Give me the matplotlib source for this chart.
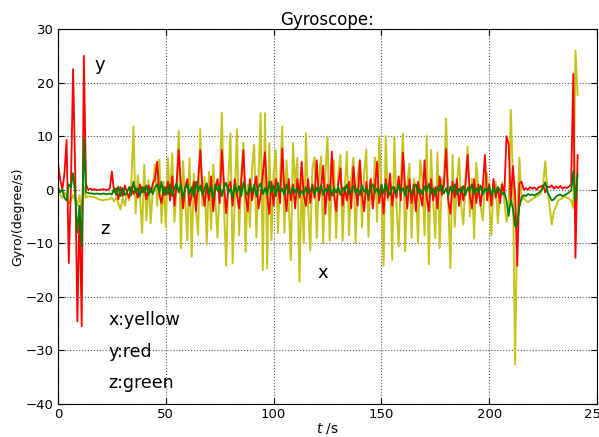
import numpy as np
import matplotlib
matplotlib.use('Agg')
import matplotlib.pyplot as plt

## gyroscope readings, one sample per second
gx = [-0.5, -1.0, -1.5, -0.5, -1.0, -2.5, -2.0, -1.0, -2.0, -3.0,
      -1.0, -4.0, 0.5, -1.5, -1.2, -1.3, -1.4, -1.4, -1.6, -1.8,
      -1.9, -2.0, -1.8, -1.9, -1.7, -1.5, -2.2, -1.4, -2.6, -3.7,
      -1.5, -3.0, -0.5, -2.0, 1.0, 11.8, -4.4, 2.7, -1.0, -8.1,
      4.6, -5.7, 1.8, -6.3, 0.5, 4.7, -3.0, 5.6, -6.2, 1.5,
      -7.0, 5.9, -2.0, 6.8, -6.0, 0.5, 11.0, -10.9, 5.3, -2.0,
      -9.4, 5.9, -12.5, 3.0, -4.0, -8.4, 11.3, -3.0, 2.4, -10.2,
      3.3, -7.4, 4.7, -2.0, -8.9, 1.0, 14.4, -3.0, -14.2, 2.0,
      10.5, -13.7, -2.0, 11.3, -8.5, 3.0, 8.8, -11.6, 1.0, -7.0,
      4.0, 8.4, -8.9, 2.0, 14.3, -15.0, 14.3, -14.7, 8.7, -9.4,
      3.0, 7.4, -8.1, 2.0, 11.8, -8.0, 5.5, -2.0, -13.1, 8.7,
      0.5, 6.0, -17.2, 2.0, -10.0, 10.5, -3.0, -11.3, 4.0, 6.0,
      -9.0, 2.0, 6.2, -10.0, 3.0, 9.9, -9.5, 2.0, 5.5, -9.0,
      3.0, 6.5, -9.5, 0.5, 7.1, -8.5, 2.0, 6.0, -10.0, 3.0,
      5.5, -7.0, 3.0, 7.5, -8.8, 2.0, -3.0, 6.0, -6.0, 9.9,
      0.0, -14.2, 10.0, -2.0, 3.0, -13.1, 9.8, -3.0, -10.6, 2.0,
      10.5, -11.5, 1.0, 4.9, -9.0, 2.0, 0.5, -9.9, 5.5, 2.0,
      -8.5, 10.0, -13.9, 7.4, -2.0, -9.0, 7.0, -10.9, 2.0, 0.5,
      13.3, -2.0, -14.6, 6.5, -6.9, 1.0, 6.0, -3.0, -6.5, 2.0,
      8.0, -5.0, 2.0, -9.1, 5.0, 0.0, -3.0, -5.7, 1.0, 3.1,
      -2.0, -8.5, 0.5, 1.5, -6.3, 0.0, 1.3, -2.0, -6.0, -4.0,
      14.9, 2.0, -32.6, -5.0, 6.0, -2.0, -1.5, -2.0, -2.3, -2.0,
      -1.8, -1.5, -1.2, -1.0, -0.7, 1.0, 5.3, 0.0, -3.0, -6.5,
      -4.0, -3.2, -2.0, -1.8, -1.5, -1.3, -1.5, -1.7, -2.0, -3.4,
      26.0, 17.7]

gy = [5.0, 2.0, 0.0, 3.0, 9.3, -13.7, 0.5, 22.5, 3.0, -24.6,
      -3.0, -25.5, 25.0, 1.0, 0.0, 0.2, 0.0, 0.1, -0.1, 0.0,
      0.0, 0.1, 0.0, 0.0, 0.2, 3.4, -0.5, 0.3, -1.8, 0.5,
      -1.2, 0.8, -0.5, -1.5, 0.5, -0.8, 0.3, -1.5, 1.0, -0.5,
      0.5, -1.8, 0.8, -0.5, 1.2, 2.0, 5.2, -1.0, -2.5, 0.5,
      -1.0, 1.5, -2.0, 2.5, -3.0, 1.0, 7.4, 1.0, -3.5, 0.5,
      2.0, -3.0, -1.0, 1.5, -4.0, 2.0, 7.4, 0.0, -3.0, 1.0,
      -2.0, 2.5, -4.0, 0.5, 2.0, -2.5, 7.4, 1.0, -4.4, 0.5,
      1.5, -3.0, 2.0, -1.0, -3.5, 1.5, 7.4, -1.0, -4.0, 2.0,
      -2.0, 0.5, 2.5, -3.5, -1.0, 3.0, 7.0, -1.0, -4.5, 1.5,
      -3.0, 2.0, 0.5, -2.5, 7.7, 0.0, -4.0, 2.0, -2.0, 1.0,
      -3.5, 2.0, -1.5, 5.2, -1.0, -3.0, 2.0, -2.5, 1.0, -1.5,
      5.5, -2.0, 0.5, 4.5, -4.5, 1.0, -2.0, 7.1, -1.0, -4.0,
      1.0, 4.0, -3.0, 0.5, -2.0, 1.5, -3.5, 4.3, 0.0, -3.0,
      5.5, -1.0, -4.0, 1.5, -2.0, 2.0, -3.5, 0.5, 5.2, -2.5,
      1.0, -4.5, 2.0, -1.5, 3.0, -3.0, 0.5, -1.5, 2.5, -2.0,
      6.9, 0.5, -3.5, 2.0, -2.5, 1.0, -4.0, 1.5, -1.0, -3.0,
      5.5, -1.5, -4.0, 2.0, -2.0, 0.5, -3.5, 2.5, -1.0, 1.0,
      7.6, -2.0, -4.5, 1.5, -1.5, 2.0, -3.0, 0.5, -2.0, 1.0,
      6.5, -1.0, -3.5, 2.0, -2.5, 1.0, -3.0, 0.5, 6.5, -2.0,
      1.0, -3.0, 2.0, -1.5, 0.5, -2.5, 1.0, -1.0, 10.0, 8.5,
      -2.0, 4.4, -1.0, -14.2, 1.2, 1.5, 0.0, 0.3, 0.0, 0.5,
      0.2, 0.4, 0.0, 0.5, 0.6, 0.8, -0.5, 0.6, 0.5, 0.8,
      0.2, 0.6, 0.3, 0.7, 0.2, 0.5, 0.3, 0.6, 1.0, 21.6,
      -12.7, 6.5]

gz = [0.5, -0.5, 0.0, -1.5, -2.0, 1.0, 0.5, 3.1, -1.0, -8.0,
      -3.0, -10.6, 9.6, -0.5, -0.6, -0.7, -0.7, -0.8, -0.7, -0.8,
      -0.8, -0.7, -0.8, -0.8, -0.7, -0.9, 0.2, -1.0, 0.6, -1.2,
      0.3, -1.0, -0.5, 0.5, -1.0, 1.5, -0.5, 0.3, -1.2, 0.5,
      -0.5, 0.8, -1.0, 0.3, -0.8, 0.5, 1.0, -0.5, 1.5, -1.0,
      0.5, -0.8, 1.0, -1.2, 0.3, 1.2, -0.5, 1.0, -1.5, 0.2,
      1.0, -0.8, 0.5, -1.3, 1.5, -0.3, 0.8, -1.0, 0.2, 1.2,
      -0.8, 0.5, -1.5, 1.0, -0.2, 0.8, -1.2, 0.5, 1.3, -0.6,
      0.3, -1.5, 1.0, -0.5, 0.7, -1.2, 1.4, -0.3, -1.0, 0.8,
      -0.5, 1.0, -1.3, 0.5, 1.2, -0.8, 0.3, -1.0, 1.5, -0.5,
      0.8, -1.2, 1.3, -0.5, 0.2, -1.0, 1.0, -0.3, -0.8, 0.6,
      -0.5, 0.3, -1.0, -0.2, -0.8, 0.5, -0.6, -0.3, 0.8, -0.9,
      0.4, -0.5, 0.9, -1.0, 0.2, -0.4, 0.8, -1.1, 0.3, -0.5,
      0.6, -1.0, 0.4, -0.2, 1.0, -0.8, -0.3, 0.7, -0.6, 0.2,
      -1.0, 0.8, -0.4, 0.3, -1.2, 0.6, 1.0, -0.5, 0.2, -1.0,
      0.9, -0.7, 1.2, -0.4, -1.0, 0.5, 0.2, -0.8, 1.0, -0.5,
      0.3, -1.1, 0.7, -0.2, -0.8, 0.4, 1.0, -0.6, 0.1, -0.9,
      0.6, -0.3, 1.1, -0.8, 0.2, -1.0, 0.5, -0.2, 0.8, -0.7,
      0.3, -1.2, 0.6, -0.4, 1.0, -0.9, 0.2, -0.5, 0.7, -1.0,
      0.4, -0.2, 1.0, -0.8, 0.3, -0.6, 0.8, -0.9, 0.2, -0.4,
      0.6, -1.0, 0.3, -0.7, 0.5, -0.2, -0.8, -0.5, -2.0, -4.9,
      -2.0, -3.5, -6.8, -6.5, -3.2, -1.5, -1.0, -1.2, -0.8, -1.0,
      -0.9, -1.1, -0.8, -0.6, -0.2, 0.5, 1.4, -0.5, -1.2, -2.0,
      -1.8, -1.3, -1.0, -0.9, -1.2, -1.0, -0.8, -0.5, -0.2, 3.4,
      -2.0, 2.9]

t = np.arange(len(gx)) * 1.0

fig = plt.figure(figsize=(5.99, 4.37), dpi=100)
ax = fig.add_axes([0.0968, 0.0755, 0.8999, 0.8581])

ax.plot(t, gx, color='#c4c41c', lw=1.4)
ax.plot(t, gy, color='#ff0000', lw=1.3)
ax.plot(t, gz, color='#008000', lw=1.3)

ax.set_xlim(0, 250)
ax.set_ylim(-40, 30)
ax.set_xticks([0, 50, 100, 150, 200, 250])
ax.set_yticks([-40, -30, -20, -10, 0, 10, 20, 30])
ax.grid(True, color='#555555', linestyle=':', linewidth=0.8)
ax.tick_params(direction='in', top=True, right=True, length=4, labelsize=9.5, pad=3)

ax.set_title('Gyroscope:', fontsize=12, pad=3)
ax.set_xlabel('$t$ /s', fontsize=10, labelpad=0)
ax.set_ylabel('Gyro/(degree/s)', fontsize=9, labelpad=1)

## curve names and colour legend as plain text
ax.text(17, 22.3, 'y', fontsize=13)
ax.text(19.5, -8.3, 'z', fontsize=13)
ax.text(120.5, -16.5, 'x', fontsize=13)
ax.text(23.3, -25.3, 'x:yellow', fontsize=12.5)
ax.text(23.3, -31.2, 'y:red', fontsize=12.5)
ax.text(23.3, -37.1, 'z:green', fontsize=12.5)

plt.savefig('out.png', dpi=100)
